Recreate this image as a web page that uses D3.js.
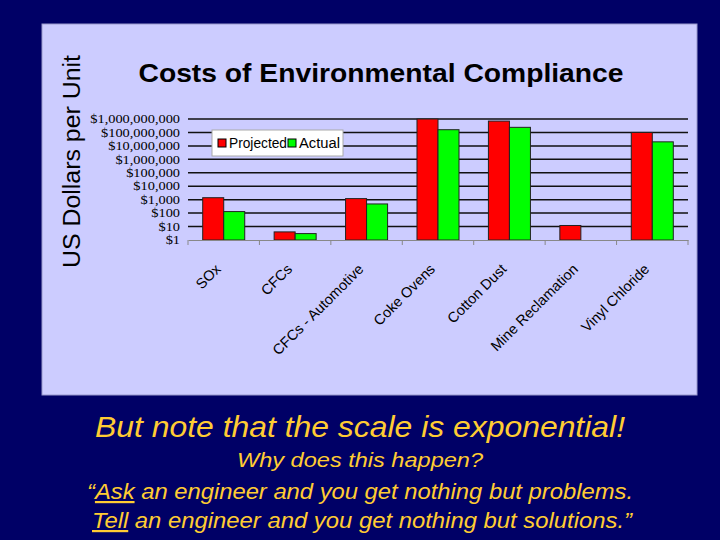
<!DOCTYPE html>
<html><head><meta charset="utf-8">
<script src="https://cdn.jsdelivr.net/npm/d3@7"></script>
<style>html,body{margin:0;padding:0;background:#000066;}svg{display:block;}</style>
</head><body>
<svg id="c" width="720" height="540"></svg>
<script>
const categories = ["SOx","CFCs","CFCs - Automotive","Coke Ovens","Cotton Dust","Mine Reclamation","Vinyl Chloride"];
const projected = [1400, 4, 1200, 1e9, 7e8, 12, 1e8];
const actual = [130, 3, 480, 1.6e8, 2.4e8, null, 2e7];
const seriesNames = ["Projected","Actual"];
const seriesColors = ["#ff0000","#00ff00"];
const tickValues = [1,10,100,1e3,1e4,1e5,1e6,1e7,1e8,1e9];
const chartTitle = "Costs of Environmental Compliance";
const yTitle = "US Dollars per Unit";

const svg = d3.select("#c");
svg.append("rect").attr("width",720).attr("height",540).attr("fill","#000066");
svg.append("rect").attr("x",42).attr("y",24).attr("width",655).attr("height",371).attr("fill","#ccccff").attr("stroke","#9999cc").attr("stroke-width",1);

const x = d3.scaleBand().domain(categories).range([188,688]).padding(0);
const sub = d3.scaleBand().domain(seriesNames).range([0,x.bandwidth()]).paddingOuter(0.7).paddingInner(0);
const y = d3.scaleLog().domain([1,1e9]).range([240,119]);

// gridlines
svg.append("g").selectAll("line").data(tickValues.slice(1)).join("line")
  .attr("x1",188).attr("x2",688).attr("y1",d=>y(d)).attr("y2",d=>y(d))
  .attr("stroke","#111").attr("stroke-width",1.5);

// y tick labels
const yAxis = d3.axisLeft(y).tickValues(tickValues).tickFormat(d3.format("$,")).tickSize(0).tickPadding(8);
const ya = svg.append("g").attr("transform","translate(188,0)").call(yAxis);
ya.select(".domain").remove();
ya.selectAll("text").attr("x",0).attr("transform","translate(-8,0) scale(1.25,1)")
  .attr("font-family","'Liberation Serif','Times New Roman',serif").attr("font-size",11.5).attr("fill","#000");

// bars
const data = categories.map((c,i)=>({c, vals:[projected[i],actual[i]]}));
const g = svg.append("g").selectAll("g").data(data).join("g").attr("transform",d=>`translate(${x(d.c)},0)`);
g.selectAll("rect").data(d=>d.vals.map((v,j)=>({v,s:seriesNames[j],j})).filter(e=>e.v!=null)).join("rect")
  .attr("x",e=>sub(e.s)).attr("width",sub.bandwidth())
  .attr("y",e=>y(e.v)).attr("height",e=>240-y(e.v))
  .attr("fill",e=>seriesColors[e.j]).attr("stroke","#222").attr("stroke-width",1);

// x axis
const xAxis = d3.axisBottom(x).tickSize(0).tickFormat("");
const xa = svg.append("g").attr("transform","translate(0,240)").call(xAxis);
xa.select(".domain").attr("stroke","#888").attr("stroke-width",1);
svg.append("g").selectAll("line").data(d3.range(categories.length+1)).join("line")
  .attr("x1",i=>188+i*x.step()).attr("x2",i=>188+i*x.step()).attr("y1",240).attr("y2",245)
  .attr("stroke","#888");
svg.append("g").selectAll("text").data(categories).join("text")
  .attr("transform",d=>`translate(${x(d)+x.bandwidth()/2-2},${270}) rotate(-45)`)
  .attr("text-anchor","end").attr("font-family","'Liberation Sans',Arial,sans-serif").attr("font-size",14.5).attr("fill","#000")
  .text(d=>d);

// legend
const lg = svg.append("g").attr("transform","translate(212,130)");
lg.append("rect").attr("width",131).attr("height",26).attr("fill","#fff").attr("stroke","#aaa");
const li = lg.selectAll("g").data(seriesNames).join("g").attr("transform",(d,i)=>`translate(${i===0?6:76},0)`);
li.append("rect").attr("x",0).attr("y",9).attr("width",8).attr("height",8).attr("fill",(d,i)=>seriesColors[i]).attr("stroke","#000");
li.append("text").attr("x",11).attr("y",18).attr("font-family","'Liberation Sans',Arial,sans-serif").attr("font-size",14).attr("fill","#000")
  .attr("textLength",(d,i)=>i===0?58:41).attr("lengthAdjust","spacingAndGlyphs").text(d=>d);

// titles
svg.append("text").attr("x",381).attr("y",82).attr("text-anchor","middle")
  .attr("font-family","'Liberation Sans',Arial,sans-serif").attr("font-weight","bold").attr("font-size",26)
  .attr("textLength",485).attr("lengthAdjust","spacingAndGlyphs").attr("fill","#000").text(chartTitle);
svg.append("text").attr("transform","translate(80,161.5) rotate(-90)").attr("text-anchor","middle")
  .attr("font-family","'Liberation Sans',Arial,sans-serif").attr("font-size",23)
  .attr("textLength",213).attr("lengthAdjust","spacingAndGlyphs").attr("fill","#000").text(yTitle);

// bottom text
const gold = "#ffcc33";
const bt = svg.append("g").attr("font-family","'Liberation Sans',Arial,sans-serif").attr("font-style","italic").attr("fill",gold).attr("text-anchor","middle").attr("lengthAdjust","spacingAndGlyphs");
bt.append("text").attr("x",360).attr("y",437).attr("font-size",30).attr("textLength",530).attr("lengthAdjust","spacingAndGlyphs").text("But note that the scale is exponential!");
bt.append("text").attr("x",360).attr("y",467).attr("font-size",21).attr("textLength",246).attr("lengthAdjust","spacingAndGlyphs").text("Why does this happen?");
const t3 = bt.append("text").attr("x",360).attr("y",499).attr("font-size",22).attr("textLength",546).attr("lengthAdjust","spacingAndGlyphs");
t3.append("tspan").text("\u201C");
t3.append("tspan").attr("text-decoration","underline").text("Ask");
t3.append("tspan").text(" an engineer and you get nothing but problems.");
const t4 = bt.append("text").attr("x",362).attr("y",528).attr("font-size",22).attr("textLength",540).attr("lengthAdjust","spacingAndGlyphs");
t4.append("tspan").attr("text-decoration","underline").text("Tell");
t4.append("tspan").text(" an engineer and you get nothing but solutions.\u201D");
</script>
</body></html>
